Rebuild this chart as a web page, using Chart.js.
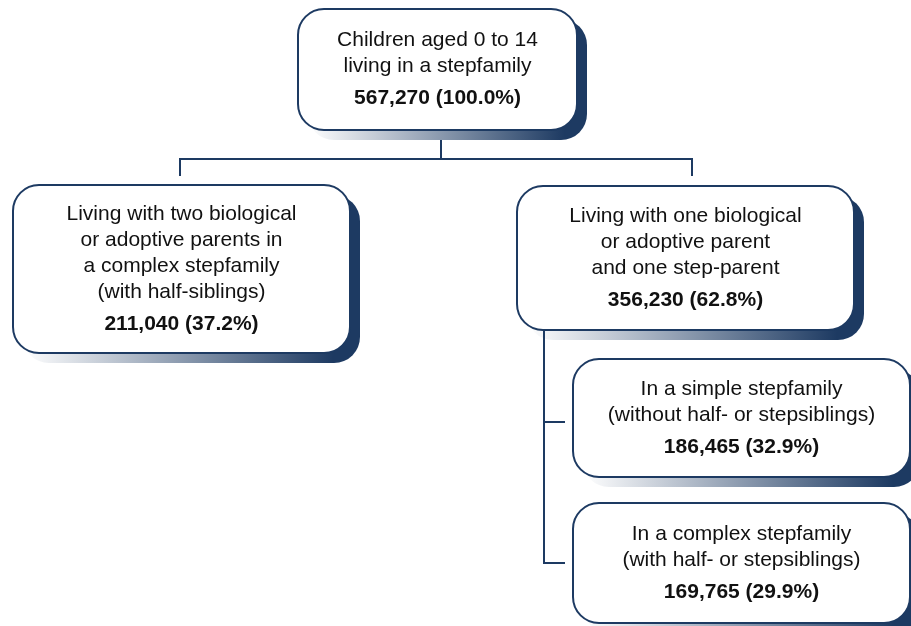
<!DOCTYPE html>
<html>
<head>
<meta charset="utf-8">
<script src="https://cdn.jsdelivr.net/npm/chart.js@4"></script>
<style>
  html, body { margin: 0; padding: 0; background: #fff; }
  canvas { display: block; }
</style>
</head>
<body>
<canvas id="tree" width="911" height="626"></canvas>
<script>
// node texts and values
const nodeLabels = [
    ['Children aged 0 to 14', 'living in a stepfamily'],
    ['Living with two biological', 'or adoptive parents in', 'a complex stepfamily', '(with half-siblings)'],
    ['Living with one biological', 'or adoptive parent', 'and one step-parent'],
    ['In a simple stepfamily', '(without half- or stepsiblings)'],
    ['In a complex stepfamily', '(with half- or stepsiblings)']
];
const childCounts = [567270, 211040, 356230, 186465, 169765];
const childShares = [100.0, 37.2, 62.8, 32.9, 29.9];

// layout in chart units (left, top, right, bottom)
const boxLayout = [
    [298, 9, 577, 130],
    [13, 185, 350, 353],
    [517, 186, 854, 330],
    [573, 359, 910, 477],
    [573, 503, 910, 623]
];
const connectorPaths = [
    [[441, 140], [441, 159]],
    [[180, 176], [180, 159], [692, 159], [692, 176]],
    [[544, 330], [544, 563], [565, 563]],
    [[544, 422], [565, 422]]
];

const navy = '#1d3a62';

function fmt(n) {
    return n.toLocaleString('en-US');
}

function roundRect(c, x, y, w, h, r) {
    c.beginPath();
    c.moveTo(x + r, y);
    c.lineTo(x + w - r, y);
    c.arcTo(x + w, y, x + w, y + r, r);
    c.lineTo(x + w, y + h - r);
    c.arcTo(x + w, y + h, x + w - r, y + h, r);
    c.lineTo(x + r, y + h);
    c.arcTo(x, y + h, x, y + h - r, r);
    c.lineTo(x, y + r);
    c.arcTo(x, y, x + r, y, r);
    c.closePath();
}

// boxes go under the connector lines
const boxPlugin = {
    id: 'boxes',
    beforeDatasetsDraw(chart) {
        const c = chart.ctx;
        const xs = chart.scales.x;
        const ys = chart.scales.y;
        boxLayout.forEach(function (b, i) {
            const x0 = xs.getPixelForValue(b[0]);
            const x1 = xs.getPixelForValue(b[2]);
            const y0 = ys.getPixelForValue(b[1]);
            const y1 = ys.getPixelForValue(b[3]);
            const w = x1 - x0, h = y1 - y0;
            const off = 10, r = 26;

            // shadow
            const g = c.createLinearGradient(x0 + off, 0, x1 + off, 0);
            g.addColorStop(0, '#ffffff');
            g.addColorStop(0.92, navy);
            g.addColorStop(1, navy);
            c.save();
            roundRect(c, x0 + off, y0 + off, w, h, r);
            c.fillStyle = g;
            c.fill();

            // box
            roundRect(c, x0, y0, w, h, r);
            c.fillStyle = '#ffffff';
            c.fill();
            c.lineWidth = 2;
            c.strokeStyle = navy;
            c.stroke();

            // text
            const lines = nodeLabels[i];
            const lh = 26, gap = 32;
            const total = (lines.length - 1) * lh + gap;
            const cx = (x0 + x1) / 2;
            let ty = (y0 + y1) / 2 - total / 2;
            c.fillStyle = '#111';
            c.textAlign = 'center';
            c.textBaseline = 'middle';
            c.font = '21px "Liberation Sans", Arial, sans-serif';
            lines.forEach(function (t, k) {
                c.fillText(t, cx, ty + k * lh);
            });
            c.font = 'bold 21px "Liberation Sans", Arial, sans-serif';
            c.fillText(fmt(childCounts[i]) + ' (' + childShares[i].toFixed(1) + '%)', cx, ty + total);
            c.restore();
        });
    }
};

const connectorSets = connectorPaths.map(function (p) {
    return {
        type: 'line',
        data: p.map(function (q) { return { x: q[0], y: q[1] }; }),
        borderColor: navy,
        borderWidth: 2,
        pointRadius: 0,
        tension: 0,
        fill: false
    };
});

new Chart(document.getElementById('tree'), {
    type: 'scatter',
    data: {
        datasets: connectorSets
    },
    options: {
        responsive: false,
        animation: false,
        layout: { padding: 0 },
        scales: {
            x: { type: 'linear', min: 0, max: 911, display: false },
            y: { type: 'linear', min: 0, max: 626, reverse: true, display: false }
        },
        plugins: {
            legend: { display: false },
            tooltip: { enabled: false }
        }
    },
    plugins: [boxPlugin]
});
</script>
</body>
</html>
